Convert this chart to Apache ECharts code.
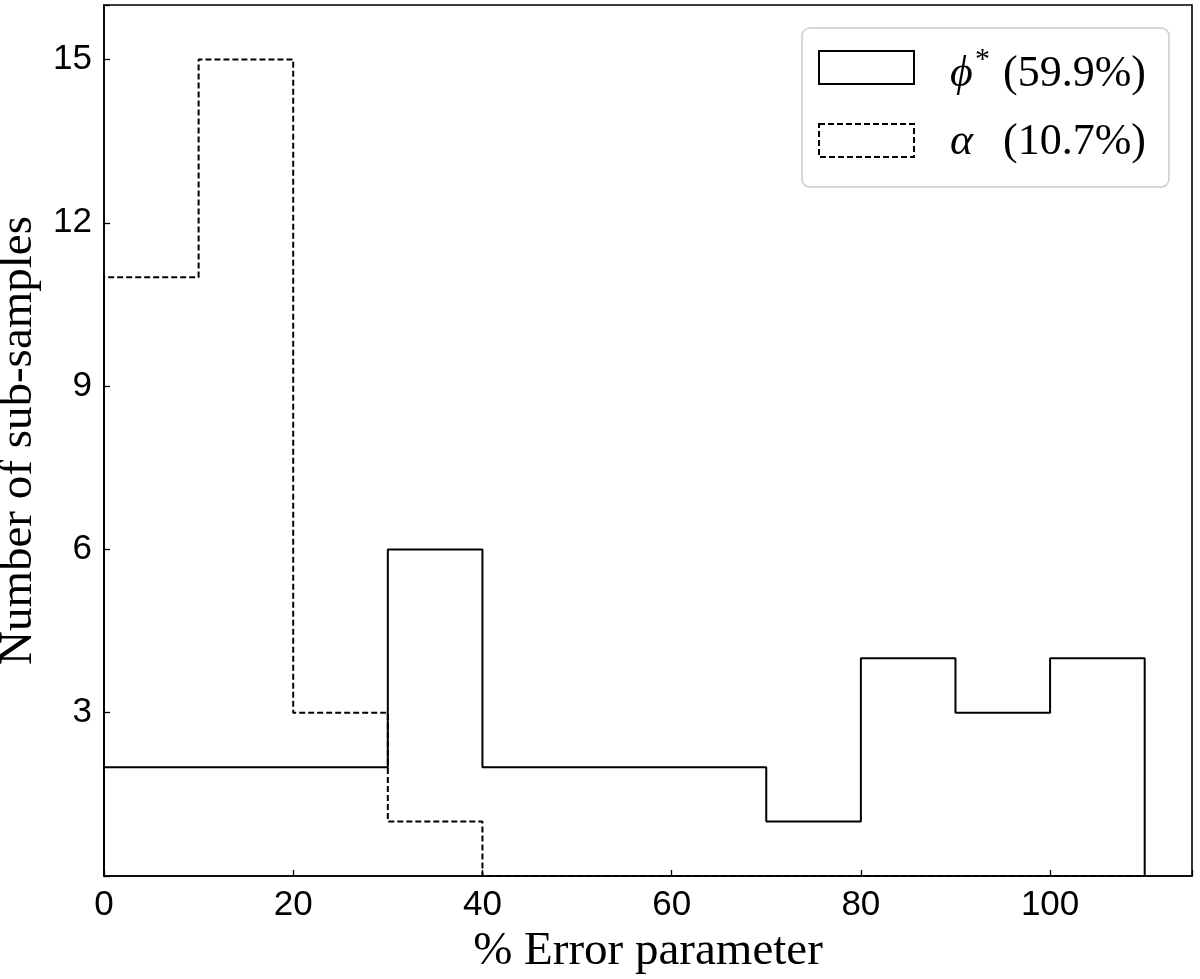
<!DOCTYPE html>
<html>
<head>
<meta charset="utf-8">
<script src="https://cdn.jsdelivr.net/npm/echarts@6/dist/echarts.min.js"></script>
<style>html,body{margin:0;padding:0;background:#fff}#chart{width:1200px;height:979px}</style>
</head>
<body>
<div id="chart"></div>
<script>
const binEdges = [0, 10, 20, 30, 40, 50, 60, 70, 80, 90, 100, 110];
const phiCounts = [2, 2, 2, 6, 2, 2, 2, 1, 4, 3, 4];
const alphaCounts = [11, 15, 3, 1, 0, 0, 0, 0, 0, 0, 0];
const xTicks = [0, 20, 40, 60, 80, 100];
const yTicks = [3, 6, 9, 12, 15];
const seriesNames = ['ϕ* (59.9%)', 'α (10.7%)'];

function stepData(counts) {
  const d = [[binEdges[0], 0]];
  counts.forEach((c, i) => d.push([binEdges[i], c]));
  d.push([binEdges[counts.length], counts[counts.length - 1]]);
  d.push([binEdges[counts.length], 0]);
  return d;
}

const tickFont = '"Liberation Sans Narrow", "Liberation Sans", sans-serif';
const serifFont = '"Liberation Serif", "DejaVu Serif", serif';

const chart = echarts.init(document.getElementById('chart'), null, {renderer: 'canvas'});
chart.setOption({
  animation: false,
  backgroundColor: '#fff',
  grid: {left: 104, right: 8, top: 5, bottom: 103, containLabel: false, outerBoundsMode: 'none',
    show: true, borderColor: '#000', borderWidth: 1.6, backgroundColor: 'transparent'},
  xAxis: {
    type: 'value', min: 0, max: 115, interval: 20,
    name: '% Error parameter', nameLocation: 'middle', nameGap: 50,
    nameTextStyle: {fontFamily: serifFont, fontSize: 47, color: '#000'},
    axisLine: {show: true, lineStyle: {color: '#000', width: 1.6}},
    axisTick: {show: true, inside: true, length: 6, lineStyle: {color: '#000', width: 1.3}},
    axisLabel: {fontFamily: tickFont, fontSize: 35, color: '#000', margin: 12,
      formatter: v => xTicks.indexOf(v) >= 0 ? String(v) : ''},
    splitLine: {show: false}
  },
  yAxis: {
    type: 'value', min: 0, max: 16, interval: 3,
    name: 'Number of sub-samples', nameLocation: 'middle', nameGap: 50,
    nameTextStyle: {fontFamily: serifFont, fontSize: 47, color: '#000'},
    axisLine: {show: true, lineStyle: {color: '#000', width: 1.6}},
    axisTick: {show: true, inside: true, length: 6, lineStyle: {color: '#000', width: 1.3}},
    axisLabel: {fontFamily: tickFont, fontSize: 35, color: '#000', margin: 12,
      formatter: v => yTicks.indexOf(v) >= 0 ? String(v) : ''},
    splitLine: {show: false}
  },
  series: [
    {name: seriesNames[0], type: 'line', step: 'end', showSymbol: false, data: stepData(phiCounts),
      lineStyle: {color: '#000', width: 2, type: 'solid'}, z: 3},
    {name: seriesNames[1], type: 'line', step: 'end', showSymbol: false, data: stepData(alphaCounts),
      lineStyle: {color: '#000', width: 2, type: [6, 3]}, z: 4}
  ],
  graphic: [
    {type: 'rect', shape: {x: 802, y: 28, width: 367, height: 159, r: 8},
      style: {fill: 'rgba(255,255,255,0.8)', stroke: '#cccccc', lineWidth: 1.5}, z: 10},
    {type: 'rect', shape: {x: 819, y: 51, width: 95, height: 33},
      style: {fill: 'none', stroke: '#000', lineWidth: 2}, z: 11},
    {type: 'rect', shape: {x: 819, y: 124, width: 95, height: 33},
      style: {fill: 'none', stroke: '#000', lineWidth: 2, lineDash: [6, 3]}, z: 11},
    {type: 'text', x: 950, y: 74, z: 11,
      style: {text: 'ϕ', font: 'italic 44px ' + serifFont, fill: '#000', textAlign: 'left', textVerticalAlign: 'middle'}},
    {type: 'text', x: 975, y: 60, z: 11,
      style: {text: '*', font: '30px ' + serifFont, fill: '#000', textAlign: 'left', textVerticalAlign: 'middle'}},
    {type: 'text', x: 1003, y: 74, z: 11,
      style: {text: '(59.9%)', font: '44px ' + serifFont, fill: '#000', textAlign: 'left', textVerticalAlign: 'middle'}},
    {type: 'text', x: 950, y: 142, z: 11,
      style: {text: 'α', font: 'italic 44px ' + serifFont, fill: '#000', textAlign: 'left', textVerticalAlign: 'middle'}},
    {type: 'text', x: 1003, y: 142, z: 11,
      style: {text: '(10.7%)', font: '44px ' + serifFont, fill: '#000', textAlign: 'left', textVerticalAlign: 'middle'}}
  ]
});
</script>
</body>
</html>
